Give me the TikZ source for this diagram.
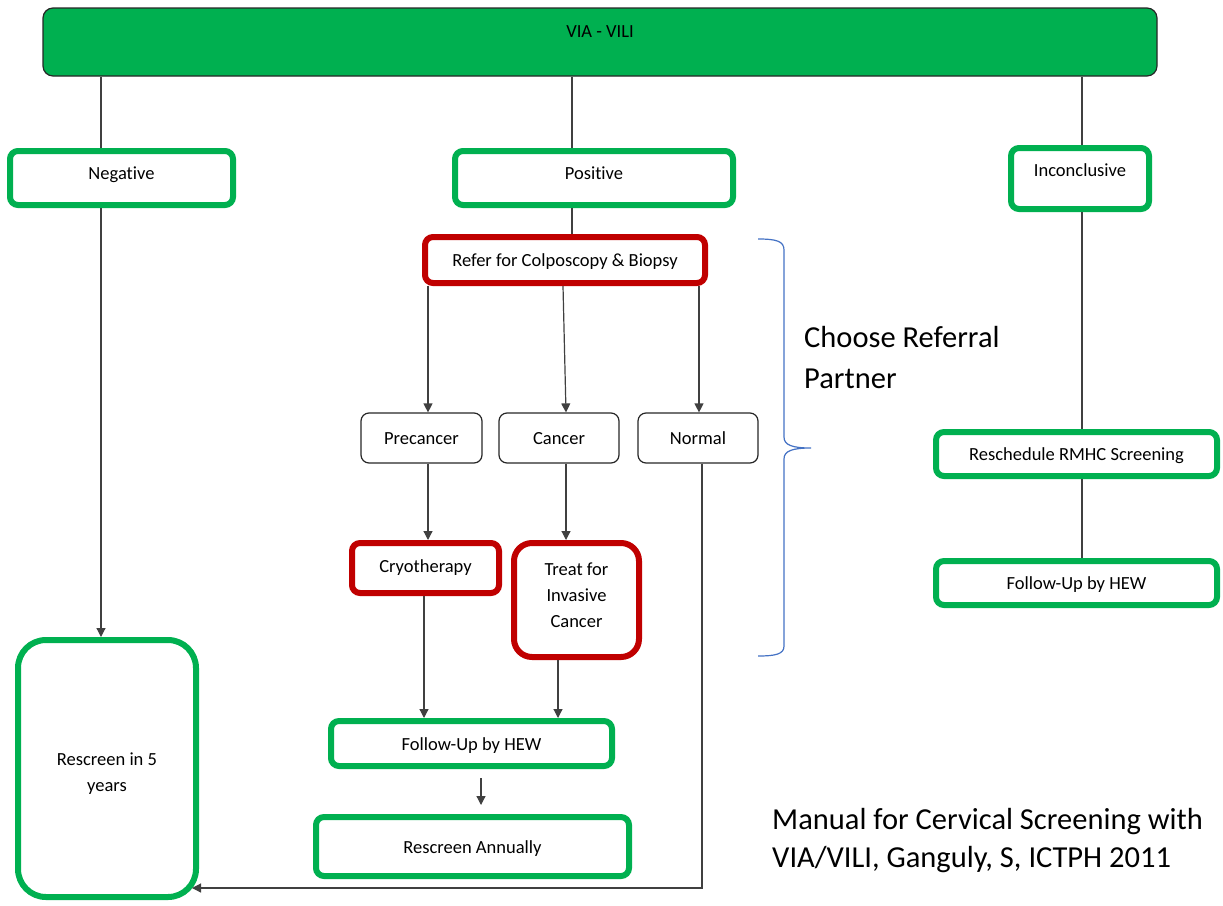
\documentclass[tikz,border=0pt]{standalone}
\usepackage{fontspec}
\setmainfont{Carlito}[Ligatures=NoCommon]
\usetikzlibrary{arrows.meta}
\definecolor{okgreen}{HTML}{00B050}
\definecolor{alertred}{HTML}{C00000}
\definecolor{bracecol}{HTML}{4472C4}
\definecolor{wire}{HTML}{404040}
\tikzset{
  box/.style={rectangle, rounded corners=8pt, inner sep=0pt, font=\fontsize{18.5}{26}\selectfont},
  greenbox/.style={box, draw=okgreen, line width=6pt},
  redbox/.style={box, draw=alertred, line width=6pt},
  plainbox/.style={box, draw=black!85, line width=1.2pt},
  bar/.style={box, rounded corners=10pt, fill=okgreen, draw=black!85, line width=1.2pt},
  oneline/.style={text height=18pt, text depth=#1},
  oneline/.default=4.5pt,
  wirestyle/.style={draw=wire, line width=1.2pt},
  arrowwire/.style={wirestyle, -{Triangle[length=9pt,width=9pt]}},
  bigtext/.style={anchor=west, inner sep=0pt, align=left},
}
\begin{document}
\begin{tikzpicture}[x=1pt,y=-1pt]
\useasboundingbox (0,0) rectangle (1223,905);

% header bar
\node[bar, minimum width=1114pt, minimum height=68pt, oneline=26.4pt] (via) at (600,42) {VIA - VILI};

% first-level results
\node[greenbox, minimum width=223pt, minimum height=54pt, oneline=14.4pt] (neg) at (121.5,178) {Negative};
\node[greenbox, minimum width=278pt, minimum height=54pt, oneline=14.4pt] (pos) at (594,178) {Positive};
\node[greenbox, minimum width=138pt, minimum height=61pt, oneline=21.4pt] (inc) at (1080,178.5) {Inconclusive};

% positive branch
\node[redbox, minimum width=280pt, minimum height=46pt, oneline] (refer) at (565,260) {Refer for Colposcopy \& Biopsy};
\node[plainbox, minimum width=121pt, minimum height=50pt, oneline] (pre) at (421.5,438) {Precancer};
\node[plainbox, minimum width=120pt, minimum height=50pt, oneline] (can) at (559,438) {Cancer};
\node[plainbox, minimum width=120pt, minimum height=50pt, oneline] (nor) at (698,438) {Normal};
\node[redbox, minimum width=147pt, minimum height=50pt, oneline=8.4pt] (cryo) at (425.5,568) {Cryotherapy};
\node[redbox, rounded corners=18pt, align=center, minimum width=125pt, minimum height=114pt] (treat) at (576.5,600) {Treat for\\Invasive\\Cancer\\[-16pt]\mbox{}};
\node[greenbox, minimum width=281pt, minimum height=45pt, oneline] (fu) at (471.5,743.5) {Follow-Up by HEW};
\node[greenbox, minimum width=313pt, minimum height=59pt, oneline] (ra) at (472.5,846.5) {Rescreen Annually};

% negative branch
\node[greenbox, rounded corners=28pt, align=center, minimum width=178pt, minimum height=257pt] (r5) at (107,768.5) {\mbox{}\\[-3pt]Rescreen in 5\\years};
\coordinate (r5tip) at (192,888);

% inconclusive branch
\node[greenbox, minimum width=281pt, minimum height=44pt, oneline] (rs) at (1076.5,454) {Reschedule RMHC Screening};
\node[greenbox, minimum width=281pt, minimum height=44pt, oneline] (fur) at (1076.5,583) {Follow-Up by HEW};

% connectors
\draw[wirestyle] (via.south -| 101,0) -- (neg.north -| 101,0);
\draw[wirestyle] (via.south -| 572,0) -- (pos.north -| 572,0);
\draw[wirestyle] (via.south -| 1082,0) -- (inc.north -| 1082,0);
\draw[arrowwire] (neg.south -| 101,0) -- (r5.north -| 101,0);
\draw[wirestyle] (pos.south -| 572,0) -- (refer.north -| 572,0);
\draw[arrowwire] (refer.south -| 428,0) -- (pre.north -| 428,0);
\draw[arrowwire] (refer.south -| 563,0) -- (can.north -| 566,0);
\draw[arrowwire] (refer.south -| 699,0) -- (nor.north -| 699,0);
\draw[arrowwire] (pre.south -| 428,0) -- (cryo.north -| 428,0);
\draw[arrowwire] (can.south -| 566,0) -- (treat.north -| 566,0);
\draw[arrowwire] (cryo.south -| 424,0) -- (fu.north -| 424,0);
\draw[arrowwire] (treat.south -| 558,0) -- (fu.north -| 558,0);
\draw[arrowwire, shorten <=9pt, shorten >=9pt] (fu.south -| 481,0) -- (ra.north -| 481,0);
\draw[arrowwire] (nor.south -| 702,0) |- (r5tip);
\draw[wirestyle] (inc.south -| 1082,0) -- (rs.north -| 1082,0);
\draw[wirestyle] (rs.south -| 1082,0) -- (fur.north -| 1082,0);

% brace grouping the referral steps
\draw[bracecol, line width=1.2pt] (758,239) .. controls (776,239) and (784,241) .. (784,250)
  -- (784,437) .. controls (784,445) and (792,448) .. (811,448)
  .. controls (792,448) and (784,451) .. (784,459)
  -- (784,646) .. controls (784,654) and (776,656) .. (758,656);

% annotations
\node[bigtext, font=\fontsize{30.5}{41}\selectfont] (choose) at (804,358) {Choose Referral\\Partner};
\node[bigtext, font=\fontsize{30.5}{38}\selectfont] (credit) at (772,841) {Manual for Cervical Screening with\\VIA/VILI, Ganguly, S, ICTPH 2011};
\end{tikzpicture}
\end{document}
